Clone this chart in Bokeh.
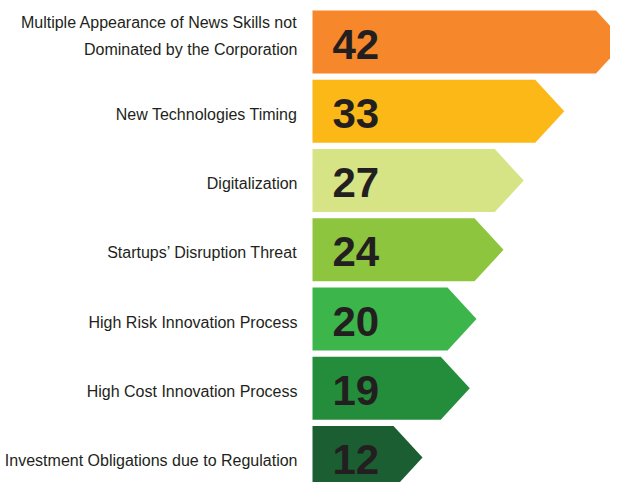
from bokeh.plotting import figure
from bokeh.models import ColumnDataSource, Range1d
from bokeh.core.properties import value
from bokeh.embed import file_html
from bokeh.resources import INLINE

labels = [
    "Multiple Appearance of News Skills not\nDominated by the Corporation",
    "New Technologies Timing",
    "Digitalization",
    "Startups\u2019 Disruption Threat",
    "High Risk Innovation Process",
    "High Cost Innovation Process",
    "Investment Obligations due to Regulation",
]
values = [42, 33, 27, 24, 20, 19, 12]
colors = ["#F6872B", "#FBB817", "#D7E485", "#8DC53F", "#3CB54A", "#248D3B", "#1A5E32"]

TIP = 4.3      # arrow tip length (data units)
HALF = 0.455   # half bar height (row units)
FONT = value("Liberation Sans")

rows = list(range(len(values)))
xs, ys = [], []
for i, v in zip(rows, values):
    xs.append([0, v, v + TIP, v, 0])
    ys.append([i - HALF, i - HALF, i, i + HALF, i + HALF])

nlines = [lab.count("\n") + 1 for lab in labels]
label_off = [3 - 9 * (n - 1) for n in nlines]

src = ColumnDataSource(dict(xs=xs, ys=ys, color=colors, row=rows,
                            zero=[0] * len(rows),
                            num=[str(v) for v in values],
                            label=labels, loff=label_off))

p = figure(width=610, height=482, output_backend="svg", toolbar_location=None,
           x_range=Range1d(-46.22, 44.15), y_range=Range1d(6.36, -0.6),
           min_border=0)
p.axis.visible = False
p.grid.visible = False
p.outline_line_color = None
p.background_fill_color = "white"

p.patches("xs", "ys", source=src, fill_color="color", line_color=None)

p.text(x="zero", y="row", text="num", source=src, x_offset=20, y_offset=2,
       text_align="left", text_baseline="middle",
       text_font=FONT, text_font_style="bold",
       text_font_size="42px", text_color="#231F20")

p.text(x="zero", y="row", text="label", source=src, x_offset=-15, y_offset="loff",
       text_align="right", text_baseline="middle",
       text_font=FONT, text_font_size="16px",
       text_line_height=1.6, text_color="#231F20")

open("out.html", "w").write(file_html(p, INLINE))
